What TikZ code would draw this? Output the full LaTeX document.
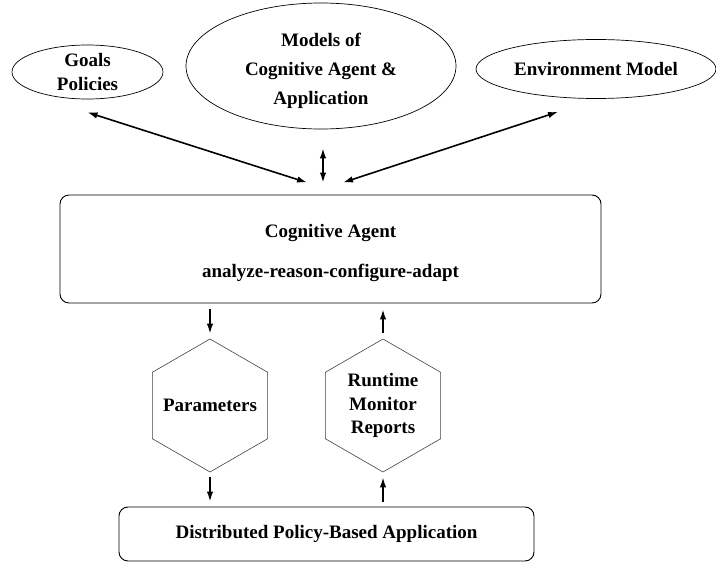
\documentclass[tikz,border=0pt]{standalone}
\usepackage{fontspec}
\setmainfont{Liberation Serif}
\usepackage{tikz}
\usetikzlibrary{arrows.meta,positioning,shapes.geometric}
\tikzstyle{oval}=[ellipse,draw,line width=0.7pt,inner sep=0pt,align=center,
                  font=\fontsize{19}{24}\selectfont\bfseries]
\tikzstyle{pbox}=[rectangle,rounded corners=9pt,draw,line width=0.9pt,align=center,
                  font=\fontsize{19}{24}\selectfont\bfseries]
\tikzstyle{hexa}=[regular polygon,regular polygon sides=6,regular polygon rotate=30,
                  minimum size=133pt,draw=black!75,line width=0.6pt,inner sep=0pt,align=center,
                  font=\fontsize{19}{23.5}\selectfont\bfseries]
\tikzstyle{arrow}=[-{Latex[length=10pt,width=6.5pt]},line width=1.6pt]
\tikzstyle{biarrow}=[{Latex[length=10pt,width=6.5pt]}-{Latex[length=10pt,width=6.5pt]},line width=1.6pt]

\begin{document}
\begin{tikzpicture}[x=1pt,y=-1pt]
      \useasboundingbox (0,0) rectangle (716,562);
      \node[oval,minimum width=151pt,minimum height=54pt,inner sep=-2pt] (goals) at (87.5,72) {Goals\\Policies};
      \node[oval,minimum width=270pt,minimum height=126pt,font=\fontsize{19}{29}\selectfont\bfseries] (models) at (321,66) {\rule{0pt}{23pt}Models of\\Cognitive Agent \&\\Application};
      \node[oval,minimum width=240pt,minimum height=59pt] (env) at (596,69) {Environment Model};
      \node[pbox,minimum width=541pt,minimum height=108pt] (agent) at (330.5,249) {\rule{0pt}{21pt}Cognitive Agent\\[16pt]analyze-reason-configure-adapt};
      \node[hexa] (params) at (210,405.5) {\makebox[0pt]{Parameters}};
      \node[hexa] (runtime) at (383,405.5) {Runtime\\Monitor\\Reports};
      \node[pbox,minimum width=415pt,minimum height=54pt] (app) at (326.5,534) {Distributed Policy-Based Application};

      \draw[biarrow] ([yshift=-13pt]goals.south) -- ([xshift=-23.5pt,yshift=12pt]agent.north);
      \draw[biarrow] ([xshift=2pt,yshift=-19pt]models.south) -- ([xshift=-7.5pt,yshift=12pt]agent.north);
      \draw[biarrow] ([xshift=-38pt,yshift=-13pt]env.south) -- ([xshift=12.5pt,yshift=12pt]agent.north);
      \draw[arrow,shorten <=6pt,shorten >=5pt] (params.north |- agent.south) -- (params.north);
      \draw[arrow,shorten <=5pt,shorten >=5pt] (params.south) -- (params.south |- app.north);
      \draw[arrow,shorten <=6pt,shorten >=6pt] (runtime.north) -- (runtime.north |- agent.south);
      \draw[arrow,shorten <=5pt,shorten >=5pt] (runtime.south |- app.north) -- (runtime.south);
    \end{tikzpicture}
\end{document}
